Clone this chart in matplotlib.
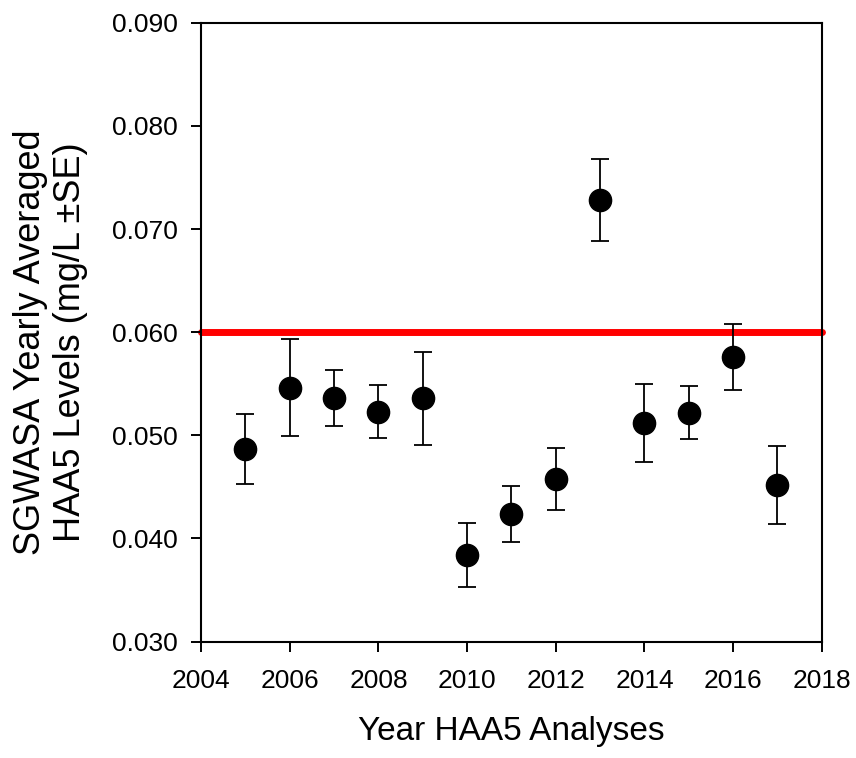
import matplotlib
matplotlib.use("Agg")
import matplotlib.pyplot as plt

plt.rcParams['font.family'] = ['Liberation Sans', 'DejaVu Sans']

years = [2005, 2006, 2007, 2008, 2009, 2010, 2011, 2012, 2013, 2014, 2015, 2016, 2017]
haa5_mean = [0.0487, 0.0546, 0.0536, 0.0523, 0.0536, 0.0384, 0.0424, 0.0458, 0.0728, 0.0512, 0.0522, 0.0576, 0.0452]
haa5_se = [0.0034, 0.0047, 0.0027, 0.0026, 0.0045, 0.0031, 0.0027, 0.0030, 0.0040, 0.0038, 0.0026, 0.0032, 0.0038]
mcl = 0.060

fig = plt.figure(figsize=(8.56, 7.58), dpi=100)
ax = fig.add_axes([0.235, 0.1535, 0.725, 0.8165])

ax.axhline(mcl, color="#ff0000", lw=5, solid_capstyle="round", clip_on=False, zorder=1)
ax.errorbar(years, haa5_mean, yerr=haa5_se, fmt="o", color="black",
            ms=16, elinewidth=1.3, capsize=6.5, capthick=1.3, zorder=3)

ax.set_xlim(2004, 2018)
ax.set_ylim(0.030, 0.090)
ax.set_xticks(range(2004, 2019, 2))
ax.set_yticks([0.03, 0.04, 0.05, 0.06, 0.07, 0.08, 0.09])
ax.set_yticklabels([f"{v:.3f}" for v in ax.get_yticks()])
ax.tick_params(direction="out", length=7, width=1.4, labelsize=19)
ax.tick_params(axis="x", pad=13)
ax.tick_params(axis="y", pad=10)
for s in ax.spines.values():
    s.set_linewidth(1.5)

ax.set_xlabel("Year HAA5 Analyses", fontsize=24, va="baseline")
ax.xaxis.set_label_coords(0.5, -0.159)
ax.set_ylabel("SGWASA Yearly Averaged\nHAA5 Levels (mg/L \u00b1SE)", fontsize=26, va="center")
ax.yaxis.set_label_coords(-0.243, 0.484)

fig.savefig("out.png", dpi=100)
